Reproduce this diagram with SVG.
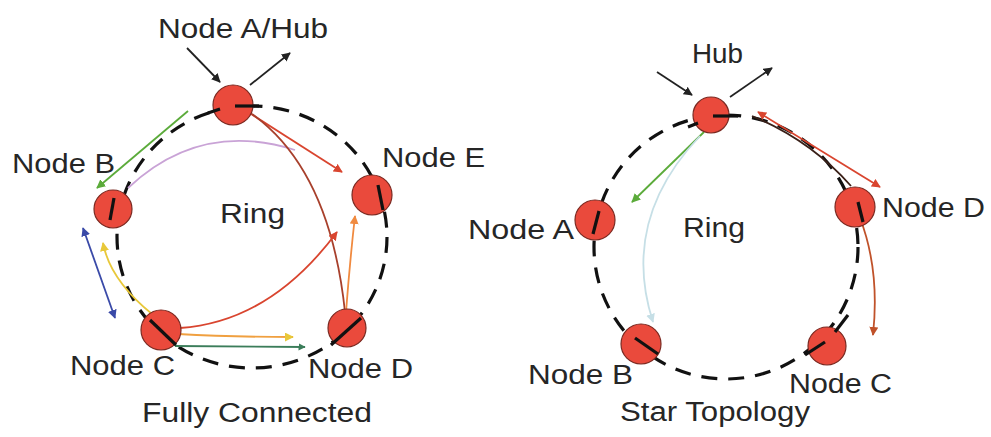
<svg xmlns="http://www.w3.org/2000/svg" width="991" height="437" viewBox="0 0 991 437">
<style>
text{font-family:"Liberation Sans",Arial,sans-serif;font-size:27px;fill:#262626}
.ring{fill:none;stroke:#111;stroke-width:3.2;stroke-dasharray:16 11}
.tick{stroke:#111;stroke-width:3.2;stroke-linecap:butt}
.node{fill:#ea4a3c;stroke:#7a2a22;stroke-width:1.2}
.c{fill:none;stroke-width:1.8}
</style>
<defs>
<marker id="mk" viewBox="0 0 10 10" refX="9" refY="5" markerWidth="5" markerHeight="5" orient="auto-start-reverse"><path d="M0,0L10,5L0,10z" fill="#222"/></marker>
<marker id="mg" viewBox="0 0 10 10" refX="9" refY="5" markerWidth="5" markerHeight="5" orient="auto-start-reverse"><path d="M0,0L10,5L0,10z" fill="#5bab3a"/></marker>
<marker id="mdg" viewBox="0 0 10 10" refX="9" refY="5" markerWidth="4" markerHeight="4" orient="auto-start-reverse"><path d="M0,0L10,5L0,10z" fill="#3b7d5a"/></marker>
<marker id="mr" viewBox="0 0 10 10" refX="9" refY="5" markerWidth="5" markerHeight="5" orient="auto-start-reverse"><path d="M0,0L10,5L0,10z" fill="#d9452f"/></marker>
<marker id="mo" viewBox="0 0 10 10" refX="9" refY="5" markerWidth="5" markerHeight="5" orient="auto-start-reverse"><path d="M0,0L10,5L0,10z" fill="#f08a40"/></marker>
<marker id="my" viewBox="0 0 10 10" refX="9" refY="5" markerWidth="5" markerHeight="5" orient="auto-start-reverse"><path d="M0,0L10,5L0,10z" fill="#e8c83a"/></marker>
<marker id="mb" viewBox="0 0 10 10" refX="9" refY="5" markerWidth="5" markerHeight="5" orient="auto-start-reverse"><path d="M0,0L10,5L0,10z" fill="#3a4aa8"/></marker>
<marker id="mc" viewBox="0 0 10 10" refX="9" refY="5" markerWidth="5" markerHeight="5" orient="auto-start-reverse"><path d="M0,0L10,5L0,10z" fill="#c6dfe6"/></marker>
<marker id="mbr" viewBox="0 0 10 10" refX="9" refY="5" markerWidth="5" markerHeight="5" orient="auto-start-reverse"><path d="M0,0L10,5L0,10z" fill="#c0522a"/></marker>
</defs>
<rect width="991" height="437" fill="#fff"/>

<!-- Left: Fully Connected -->
<g id="ring-left">
<ellipse class="ring" cx="252" cy="237" rx="135" ry="131"/>
</g>
<g id="connectors-left">
<line class="c" x1="187" y1="48" x2="220" y2="82" stroke="#222" stroke-width="1.3" marker-end="url(#mk)"/>
<line class="c" x1="250" y1="85" x2="290" y2="53" stroke="#222" stroke-width="1.3" marker-end="url(#mk)"/>
<line class="c" x1="188" y1="111" x2="97" y2="188" stroke="#5bab3a" stroke-width="2" marker-end="url(#mg)"/>
<path class="c" d="M128,188 Q200,120 295,150" stroke="#c9a3d6" stroke-width="1.4"/>
<line class="c" x1="248" y1="112" x2="342" y2="172" stroke="#d9452f" marker-end="url(#mr)"/>
<path class="c" d="M252,114 Q330,170 345,312" stroke="#a8402c" stroke-width="2"/>
<path class="c" d="M180,328 Q270,322 337,232" stroke="#d9452f" marker-end="url(#mr)"/>
<path class="c" d="M346,312 Q350,260 355,216" stroke="#f08a40" marker-end="url(#mo)"/>
<line class="c" x1="115" y1="318" x2="83" y2="228" stroke="#3a4aa8" stroke-width="2" marker-start="url(#mb)" marker-end="url(#mb)"/>
<path class="c" d="M152,314 Q110,280 103,243" stroke="#e8c83a" stroke-width="2.2" marker-end="url(#my)"/>
<path class="c" d="M178,334 Q230,337 293,337" stroke="#f0a040" stroke-width="2.2" marker-end="url(#my)"/>
<line class="c" x1="175" y1="346" x2="305" y2="347" stroke="#3b7d5a" stroke-width="2.6" marker-end="url(#mdg)"/>
</g>
<g id="node-a-hub"><circle class="node" cx="233" cy="105" r="20"/><line class="tick" x1="235" y1="106" x2="259" y2="106"/><line class="tick" x1="208" y1="113" x2="220" y2="109"/><text x="158" y="38" textLength="170" lengthAdjust="spacingAndGlyphs">Node A/Hub</text></g>
<g id="node-b-left"><circle class="node" cx="113" cy="209" r="19"/><line class="tick" x1="114" y1="198" x2="110" y2="220"/><text x="12" y="173" textLength="103" lengthAdjust="spacingAndGlyphs">Node B</text></g>
<g id="node-c-left"><circle class="node" cx="161" cy="330" r="20"/><line class="tick" x1="150" y1="320" x2="176" y2="345"/><text x="70" y="375" textLength="105" lengthAdjust="spacingAndGlyphs">Node C</text></g>
<g id="node-d-left"><circle class="node" cx="347" cy="328" r="19"/><line class="tick" x1="331" y1="345" x2="361" y2="318"/><text x="308" y="378" textLength="105" lengthAdjust="spacingAndGlyphs">Node D</text></g>
<g id="node-e-left"><circle class="node" cx="372" cy="195" r="20"/><line class="tick" x1="378" y1="185" x2="383" y2="210"/><text x="382" y="167" textLength="103" lengthAdjust="spacingAndGlyphs">Node E</text></g>
<text x="220" y="223" textLength="65" lengthAdjust="spacingAndGlyphs">Ring</text>
<text x="142" y="422" textLength="230" lengthAdjust="spacingAndGlyphs">Fully Connected</text>

<!-- Right: Star Topology -->
<g id="ring-right">
<ellipse class="ring" cx="726" cy="247" rx="132" ry="132"/>
</g>
<g id="connectors-right">
<line class="c" x1="657" y1="72" x2="692" y2="95" stroke="#222" stroke-width="1.3" marker-end="url(#mk)"/>
<line class="c" x1="730" y1="97" x2="772" y2="68" stroke="#222" stroke-width="1.3" marker-end="url(#mk)"/>
<line class="c" x1="704" y1="132" x2="632" y2="202" stroke="#5bab3a" stroke-width="2" marker-end="url(#mg)"/>
<path class="c" d="M700,136 Q620,220 653,322" stroke="#c6dfe6" stroke-width="1.6" marker-end="url(#mc)"/>
<path class="c" d="M752,116 Q810,140 851,186" stroke="#3a2018" stroke-width="2.4"/>
<line class="c" x1="758" y1="112" x2="880" y2="187" stroke="#d9452f" marker-start="url(#mr)" marker-end="url(#mr)"/>
<path class="c" d="M860,218 Q880,270 873,335" stroke="#c0522a" marker-end="url(#mbr)"/>
</g>
<g id="node-hub"><circle class="node" cx="711" cy="115" r="18"/><line class="tick" x1="713" y1="116" x2="738" y2="116"/><line class="tick" x1="688" y1="127" x2="698" y2="123"/><text x="692" y="63" textLength="51" lengthAdjust="spacingAndGlyphs">Hub</text></g>
<g id="node-a-right"><circle class="node" cx="595" cy="220" r="20"/><line class="tick" x1="593" y1="234" x2="599" y2="211"/><text x="468" y="239" textLength="106" lengthAdjust="spacingAndGlyphs">Node A</text></g>
<g id="node-b-right"><circle class="node" cx="641" cy="344" r="20"/><line class="tick" x1="635" y1="338" x2="658" y2="354"/><text x="528" y="384" textLength="105" lengthAdjust="spacingAndGlyphs">Node B</text></g>
<g id="node-c-right"><circle class="node" cx="827" cy="346" r="19"/><line class="tick" x1="805" y1="355" x2="825" y2="342"/><line class="tick" x1="835" y1="332" x2="848" y2="315"/><text x="789" y="393" textLength="103" lengthAdjust="spacingAndGlyphs">Node C</text></g>
<g id="node-d-right"><circle class="node" cx="855" cy="207" r="20"/><line class="tick" x1="858" y1="202" x2="863" y2="222"/><text x="882" y="217" textLength="103" lengthAdjust="spacingAndGlyphs">Node D</text></g>
<text x="683" y="237" textLength="62" lengthAdjust="spacingAndGlyphs">Ring</text>
<text x="620" y="421" textLength="190" lengthAdjust="spacingAndGlyphs">Star Topology</text>
</svg>
